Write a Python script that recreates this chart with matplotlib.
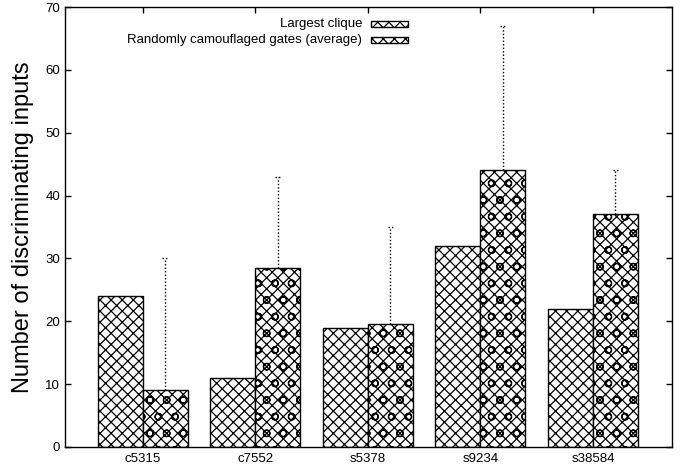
import numpy as np
import matplotlib
matplotlib.use('Agg')
from matplotlib import pyplot as plt
from matplotlib.patches import Rectangle

plt.rcParams['font.family'] = ['Liberation Sans', 'DejaVu Sans']
plt.rcParams['hatch.linewidth'] = 0.9

circuits = ['c5315', 'c7552', 's5378', 's9234', 's38584']
clique = [24, 11, 19, 32, 22]
camo_avg = [9, 28.5, 19.5, 44, 37]
camo_max = [30, 43, 35, 67, 44]
labels = ['Largest clique', 'Randomly camouflaged gates (average)']

fig = plt.figure(figsize=(6.89, 4.70), dpi=100)
ax = fig.add_axes([0.0943, 0.049, 0.8807, 0.936])

x = np.arange(len(circuits))
w = 0.4
hatches = ['xxx', 'xxxo']
ax.bar(x - w/2, clique, w, facecolor='white', edgecolor='black', hatch=hatches[0], linewidth=1.0)
ax.bar(x + w/2, camo_avg, w, facecolor='white', edgecolor='black', hatch=hatches[1], linewidth=1.0)

# error bars (dotted, only upward part visible)
ax.vlines(x + w/2, camo_avg, camo_max, colors='black', linestyles=(0, (1, 1.5)), linewidth=1.0)
ax.hlines(camo_max, x + w/2 - 0.025, x + w/2 + 0.025, colors='black', linestyles=(0, (1, 1.5)), linewidth=1.0)

ax.set_xlim(-0.69, 4.70)
ax.set_ylim(0, 70)
ax.set_xticks(x)
ax.set_xticklabels(circuits)
ax.set_yticks(range(0, 71, 10))
ax.tick_params(direction='in', top=True, right=True, length=4, labelsize=9.5, width=1)
ax.tick_params(axis='x', bottom=False, pad=4)
ax.set_ylabel('Number of discriminating inputs', fontsize=17, labelpad=8)
for s in ax.spines.values():
    s.set_linewidth(1.0)

# key
ys = [0.962, 0.925]
for lab, h, yy in zip(labels, hatches, ys):
    ax.text(0.490, yy, lab, transform=ax.transAxes, ha='right', va='center', fontsize=9.5)
    ax.add_patch(Rectangle((0.504, yy - 0.007), 0.062, 0.014, transform=ax.transAxes,
                           facecolor='white', edgecolor='black', hatch=h, linewidth=1.0))

fig.savefig('out.png', dpi=100)
